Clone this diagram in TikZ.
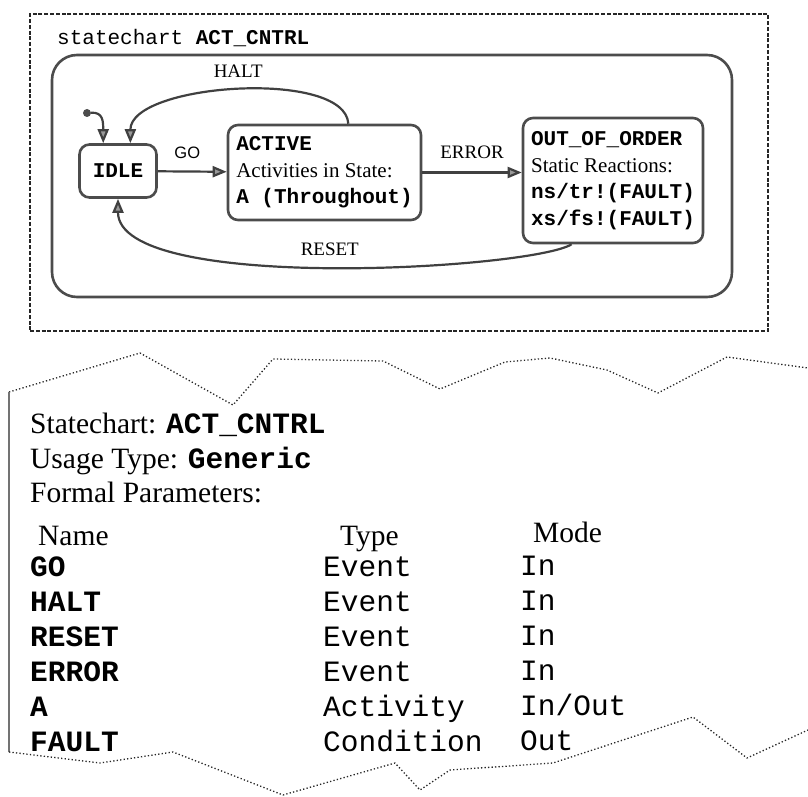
\documentclass[tikz,border=0pt]{standalone}
\usepackage{fontspec}
\setmainfont{Liberation Serif}
\setmonofont{Liberation Mono}
\newfontfamily\gofont{Liberation Sans}
\usetikzlibrary{arrows.meta}
\newcommand{\code}[1]{\texttt{#1}}
\newcommand{\bcode}[1]{\texttt{\bfseries #1}}

\begin{document}
\begin{tikzpicture}[
  x=1pt, y=-1pt,
  chartfont/.style={font=\fontsize{21}{26.5}\selectfont},
  chartframe/.style={draw=black!85, line width=1.3pt, dash pattern=on 4pt off 1.8pt,
                     inner sep=0pt},
  chartregion/.style={draw=black!70, line width=2.6pt, rounded corners=25pt, inner sep=0pt},
  statebox/.style={chartfont, draw=black!70, line width=2.6pt, rounded corners=10pt,
                   align=left, inner sep=0pt},
  initdot/.style={circle, fill=black!70, minimum size=8pt, inner sep=0pt},
  transition/.style={-{Triangle[length=14pt, width=11pt, fill=black!40]},
                     draw=black!75, line width=2.2pt},
  eventlabel/.style={font=\fontsize{19}{22}\selectfont, inner sep=0pt},
  golabel/.style={font=\gofont\fontsize{16.5}{20}\selectfont, inner sep=0pt},
  sheettext/.style={font=\fontsize{29.5}{34}\selectfont, anchor=base west, inner sep=0pt},
  tornedge/.style={draw=black!85, line width=1.3pt, dash pattern=on 1.3pt off 2.2pt},
  tornside/.style={draw=black!55, line width=2pt}
]
\useasboundingbox (0,0) rectangle (808,797);

\node[chartframe, minimum width=738pt, minimum height=317pt] (frame) at (399,172.5) {};
\node[chartfont, anchor=west, inner sep=0pt] (title) at (57,38)
  {\texttt{statechart \textbf{ACT\_CNTRL}}};
\node[chartregion, minimum width=680pt, minimum height=242pt] (actcntrl) at (392,176) {};

\node[statebox, minimum width=77pt, minimum height=53pt] (idle) at (118,171) {\bcode{IDLE}};
\node[statebox, minimum width=193pt, minimum height=95pt] (active) at (324.5,172.5)
  {\bcode{ACTIVE}\\Activities in State:\\\bcode{A (Throughout)}};
\node[statebox, minimum width=180pt, minimum height=125pt] (outoforder) at (613,180.5)
  {\bcode{OUT\_OF\_ORDER}\\Static Reactions:\\\bcode{ns/tr!(FAULT)}\\\bcode{xs/fs!(FAULT)}};
\node[initdot] (init) at (87,113) {};

\draw[transition] (init) .. controls +(16,-1) and +(0,-22) .. (idle.118);
\draw[transition] (active.64) .. controls +(-3,-55) and +(0,-60) .. (idle.66)
  node[eventlabel, pos=0.5, above=12pt] (haltlbl) {HALT};
\draw[transition] (idle) -- node[golabel, above=12pt, xshift=-5pt] (golbl) {GO} (active);
\draw[transition] (active.east) -- node[eventlabel, above=13pt] (errorlbl) {ERROR}
  (active.east -| outoforder.west);
\draw[transition] (outoforder.237) .. controls +(-40,25) and +(0,95) .. (idle.south)
  node[eventlabel, pos=0.5, above=10pt] (resetlbl) {RESET};

\draw[tornedge] (9,392) -- (140,353) -- (233,405) -- (273,359) -- (383,361) -- (440,389)
  -- (505,362) -- (550,358) -- (607,370) -- (658,393) -- (727,357) -- (808,368);
\draw[tornside] (9,392) -- (9,752);
\draw[tornedge] (9,752) -- (100,763) -- (173,752) -- (283,795) -- (395,763) -- (420,790)
  -- (450,770) -- (553,763) -- (693,717) -- (747,758) -- (808,730);

\node[sheettext] (sheetchart) at (30,433) {Statechart: \bcode{ACT\_CNTRL}};
\node[sheettext] (usage) at (30,468) {Usage Type: \bcode{Generic}};
\node[sheettext] (formal) at (30,502) {Formal Parameters:};
\node[sheettext] (namehead) at (38,545) {Name};
\node[sheettext] (typehead) at (340,545) {Type};
\node[sheettext] (modehead) at (533,542) {Mode};

\node[sheettext] (goname) at (30,576) {\bcode{GO}};
\node[sheettext] (gotype) at (323,576) {\code{Event}};
\node[sheettext] (gomode) at (520,575) {\code{In}};
\node[sheettext] (haltname) at (30,611) {\bcode{HALT}};
\node[sheettext] (halttype) at (323,611) {\code{Event}};
\node[sheettext] (haltmode) at (520,610) {\code{In}};
\node[sheettext] (resetname) at (30,646) {\bcode{RESET}};
\node[sheettext] (resettype) at (323,646) {\code{Event}};
\node[sheettext] (resetmode) at (520,645) {\code{In}};
\node[sheettext] (errorname) at (30,681) {\bcode{ERROR}};
\node[sheettext] (errortype) at (323,681) {\code{Event}};
\node[sheettext] (errormode) at (520,680) {\code{In}};
\node[sheettext] (aname) at (30,716) {\bcode{A}};
\node[sheettext] (atype) at (323,716) {\code{Activity}};
\node[sheettext] (amode) at (520,715) {\code{In/Out}};
\node[sheettext] (faultname) at (30,751) {\bcode{FAULT}};
\node[sheettext] (faulttype) at (323,751) {\code{Condition}};
\node[sheettext] (faultmode) at (520,750) {\code{Out}};
\end{tikzpicture}
\end{document}
